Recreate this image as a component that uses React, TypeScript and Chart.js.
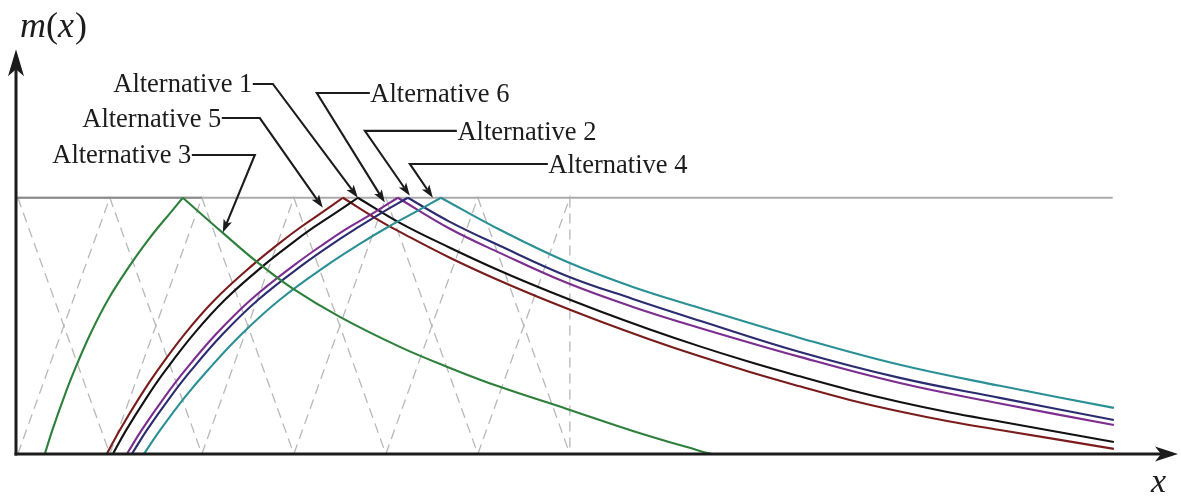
import { useEffect, useRef } from "react";
import { Chart, registerables } from "chart.js";

Chart.register(...registerables);

// ---------- data (x in units of the fuzzy partition, y = membership m(x)) ----------
const xMin = -0.02;
const xMax = 12.61;
const yMin = 0;
const yMax = 1.6;
const yArrowTip = 1.58;

// fuzzy partition terms: [left foot, peak, right foot]
const fuzzyTerms = [
  [0, 0, 1],
  [0, 1, 2],
  [1, 2, 3],
  [2, 3, 4],
  [3, 4, 5],
  [4, 5, 6],
  [5, 6, 6],
];

const topLine = [[-0.02, 1], [11.9, 1]];
const topLineDark = [[-0.02, 1], [2.0, 1]];

// membership levels read along the rising branches
const riseLevels = [0, 0.094, 0.223, 0.328, 0.469, 0.602, 0.738, 0.824, 0.883, 0.945, 1];

// x positions of the rising branches at those levels
const alt3RiseX = [0.293, 0.376, 0.503, 0.617, 0.789, 0.98, 1.222, 1.393, 1.521, 1.667, 1.793];
const alt5RiseX = [0.967, 1.109, 1.326, 1.522, 1.815, 2.141, 2.554, 2.848, 3.065, 3.315, 3.533];
const alt1RiseX = [1.033, 1.179, 1.405, 1.608, 1.913, 2.251, 2.679, 2.985, 3.21, 3.47, 3.696];
const alt6RiseX = [1.185, 1.347, 1.597, 1.821, 2.158, 2.533, 3.007, 3.343, 3.593, 3.885, 4.13];
const alt2RiseX = [1.239, 1.404, 1.659, 1.887, 2.23, 2.612, 3.095, 3.437, 3.691, 3.972, 4.239];
const alt4RiseX = [1.37, 1.548, 1.818, 2.067, 2.436, 2.847, 3.366, 3.735, 4.009, 4.323, 4.598];

// falling branches [x, m]
const alt3Fall = [[1.793, 1], [2.228, 0.863], [2.598, 0.75], [2.989, 0.645], [3.5, 0.535], [4.152, 0.418], [4.696, 0.336], [5.239, 0.262], [5.967, 0.176], [6.685, 0.09], [7.413, 0.012], [7.543, 0]];
const alt5Fall = [[3.533, 1], [3.935, 0.91], [4.152, 0.867], [4.696, 0.766], [5.239, 0.676], [5.783, 0.594], [6.326, 0.518], [6.87, 0.447], [7.413, 0.381], [7.957, 0.32], [8.5, 0.264], [9.043, 0.211], [9.587, 0.166], [10.13, 0.127], [10.674, 0.094], [11.913, 0.02]];
const alt1Fall = [[3.696, 1], [4.152, 0.902], [4.696, 0.805], [5.239, 0.715], [5.783, 0.633], [6.326, 0.557], [6.87, 0.486], [7.413, 0.42], [7.957, 0.359], [8.5, 0.303], [9.043, 0.25], [9.587, 0.203], [10.13, 0.162], [10.674, 0.127], [11.913, 0.047]];
const alt6Fall = [[4.13, 1], [4.696, 0.879], [5.239, 0.785], [5.967, 0.668], [6.685, 0.574], [7.413, 0.492], [8.5, 0.379], [9.587, 0.277], [10.674, 0.197], [11.913, 0.113]];
const alt2Fall = [[4.239, 1], [4.696, 0.906], [5.239, 0.8125], [5.967, 0.695], [6.685, 0.605], [7.413, 0.52], [8.5, 0.398], [9.587, 0.297], [10.674, 0.219], [11.913, 0.133]];
const alt4Fall = [[4.598, 1], [5.239, 0.875], [5.967, 0.75], [6.685, 0.652], [7.413, 0.57], [8.5, 0.453], [9.587, 0.348], [10.674, 0.266], [11.913, 0.18]];

// leader labels
const labelTexts = ["Alternative 1", "Alternative 5", "Alternative 3", "Alternative 6", "Alternative 2", "Alternative 4"];
const labelTips = [[3.696, 1.0], [3.315, 0.961], [2.228, 0.864], [3.989, 0.981], [4.261, 1.008], [4.511, 1.0]];
const labelElbows = [[2.772, 1.444], [2.63, 1.311], [2.576, 1.167], [3.25, 1.409], [3.772, 1.261], [4.261, 1.132]];
const labelEnds = [2.554, 2.217, 1.891, 3.826, 4.772, 5.761];
const labelSides = ["left", "left", "left", "right", "right", "right"];

// ---------- styling ----------
const COLORS = {
  alt3: "#2d803b",
  alt5: "#7b1c1c",
  alt1: "#111111",
  alt6: "#7c2d8e",
  alt2: "#2b2b6f",
  alt4: "#2a9095",
};

const pts = (a: number[][]) => a.map(([x, y]) => ({ x, y }));
const risePts = (xs: number[]) => xs.map((x, i) => ({ x, y: riseLevels[i] }));

function curve(data: { x: number; y: number }[], color: string) {
  return {
    data,
    borderColor: color,
    borderWidth: 2.1,
    pointRadius: 0,
    fill: false,
    tension: 0.4,
  };
}

function arrowHead(ctx: CanvasRenderingContext2D, fx: number, fy: number, tx: number, ty: number, len: number, half: number, notch: number) {
  const ang = Math.atan2(ty - fy, tx - fx);
  const c = Math.cos(ang);
  const s = Math.sin(ang);
  const bx = tx - c * len;
  const by = ty - s * len;
  const nx = tx - c * (len - notch);
  const ny = ty - s * (len - notch);
  ctx.beginPath();
  ctx.moveTo(tx, ty);
  ctx.lineTo(bx - s * half, by + c * half);
  ctx.lineTo(nx, ny);
  ctx.lineTo(bx + s * half, by - c * half);
  ctx.closePath();
  ctx.fill();
  return [nx, ny];
}

const overlay = {
  id: "overlay",
  afterDatasetsDraw(chart: any) {
    const { ctx, chartArea: a, scales } = chart;
    const xs = scales.x;
    const ys = scales.y;
    const X = (v: number) => xs.getPixelForValue(v);
    const Y = (v: number) => ys.getPixelForValue(v);
    ctx.save();
    const ink = "#1c1c1c";
    ctx.strokeStyle = ink;
    ctx.fillStyle = ink;

    // axes with arrows
    const ox = a.left;
    const oy = Y(0);
    ctx.lineWidth = 3;
    const yTip = Y(yArrowTip);
    const [ax1, ay1] = arrowHead(ctx, ox, oy, ox, yTip, 27, 8, 7);
    ctx.beginPath();
    ctx.moveTo(ox, oy + 1.5);
    ctx.lineTo(ax1, ay1);
    ctx.stroke();
    const xTip = a.right;
    const [bx1, by1] = arrowHead(ctx, ox, oy, xTip, oy, 23, 7.5, 6);
    ctx.beginPath();
    ctx.moveTo(ox - 1.5, oy);
    ctx.lineTo(bx1, by1);
    ctx.stroke();

    // leader labels
    ctx.lineWidth = 2.1;
    ctx.font = "26.5px 'Liberation Serif', 'Times New Roman', serif";
    ctx.textBaseline = "alphabetic";
    for (let i = 0; i < labelTexts.length; i++) {
      const tx = X(labelTips[i][0]);
      const ty = Y(labelTips[i][1]);
      const ex = X(labelElbows[i][0]);
      const ey = Y(labelElbows[i][1]);
      const endx = X(labelEnds[i]);
      const [nx, ny] = arrowHead(ctx, ex, ey, tx, ty, 13, 4.5, 3);
      ctx.beginPath();
      ctx.moveTo(endx, ey);
      ctx.lineTo(ex, ey);
      ctx.lineTo(nx, ny);
      ctx.stroke();
      if (labelSides[i] === "left") {
        ctx.textAlign = "right";
        ctx.fillText(labelTexts[i], endx - 0.5, ey + 8.5);
      } else {
        ctx.textAlign = "left";
        ctx.fillText(labelTexts[i], endx + 0.5, ey + 9.5);
      }
    }

    // axis titles
    ctx.textAlign = "left";
    const it = "italic 36px 'Liberation Serif', 'Times New Roman', serif";
    const up = "36px 'Liberation Serif', 'Times New Roman', serif";
    const parts: [string, string][] = [["m", it], ["(", up], ["x", it], [")", up]];
    let px = ox + 4;
    const pBase = 37;
    for (const [t, f] of parts) {
      ctx.font = f;
      ctx.fillText(t, px, pBase);
      px += ctx.measureText(t).width + (t === "x" ? 1 : 0);
    }
    ctx.font = "italic 34px 'Liberation Serif', 'Times New Roman', serif";
    ctx.fillText("x", a.right - 27, oy + 38);
    ctx.restore();
  },
};

export default function App() {
  const ref = useRef<HTMLCanvasElement>(null);
  useEffect(() => {
    const triangles = fuzzyTerms.map(([l, p, r]) => {
      const d: number[][] = [];
      if (l < p) d.push([l, 0]);
      d.push([p, 1]);
      d.push([r, 0]);
      return {
        data: pts(d),
        borderColor: "#b8b8b8",
        borderWidth: 1.3,
        borderDash: [10, 6],
        pointRadius: 0,
        fill: false,
        tension: 0,
      };
    });
    const datasets: any[] = [
      curve(risePts(alt3RiseX), COLORS.alt3),
      curve(pts(alt3Fall), COLORS.alt3),
      curve(risePts(alt4RiseX), COLORS.alt4),
      curve(pts(alt4Fall), COLORS.alt4),
      curve(risePts(alt2RiseX), COLORS.alt2),
      curve(pts(alt2Fall), COLORS.alt2),
      curve(risePts(alt6RiseX), COLORS.alt6),
      curve(pts(alt6Fall), COLORS.alt6),
      curve(risePts(alt1RiseX), COLORS.alt1),
      curve(pts(alt1Fall), COLORS.alt1),
      curve(risePts(alt5RiseX), COLORS.alt5),
      curve(pts(alt5Fall), COLORS.alt5),
      { data: pts(topLineDark), borderColor: "#8c8c8c", borderWidth: 2.2, pointRadius: 0, tension: 0 },
      { data: pts(topLine), borderColor: "#ababab", borderWidth: 2.2, pointRadius: 0, tension: 0 },
      ...triangles,
    ];
    const chart = new Chart(ref.current as HTMLCanvasElement, {
      type: "line",
      data: { datasets },
      options: {
        animation: false,
        responsive: false,
        events: [],
        layout: { autoPadding: false, padding: { left: 16, right: 3, top: 44, bottom: 42 } },
        plugins: { legend: { display: false }, tooltip: { enabled: false } },
        scales: {
          x: { type: "linear", min: xMin, max: xMax, display: false },
          y: { type: "linear", min: yMin, max: yMax, display: false },
        },
      } as any,
      plugins: [overlay],
    });
    return () => chart.destroy();
  }, []);
  return (
    <div style={{ position: "absolute", left: 0, top: 0, width: 1181, height: 496, background: "#fff" }}>
      <canvas ref={ref} width={1181} height={496} style={{ display: "block" }} />
    </div>
  );
}
